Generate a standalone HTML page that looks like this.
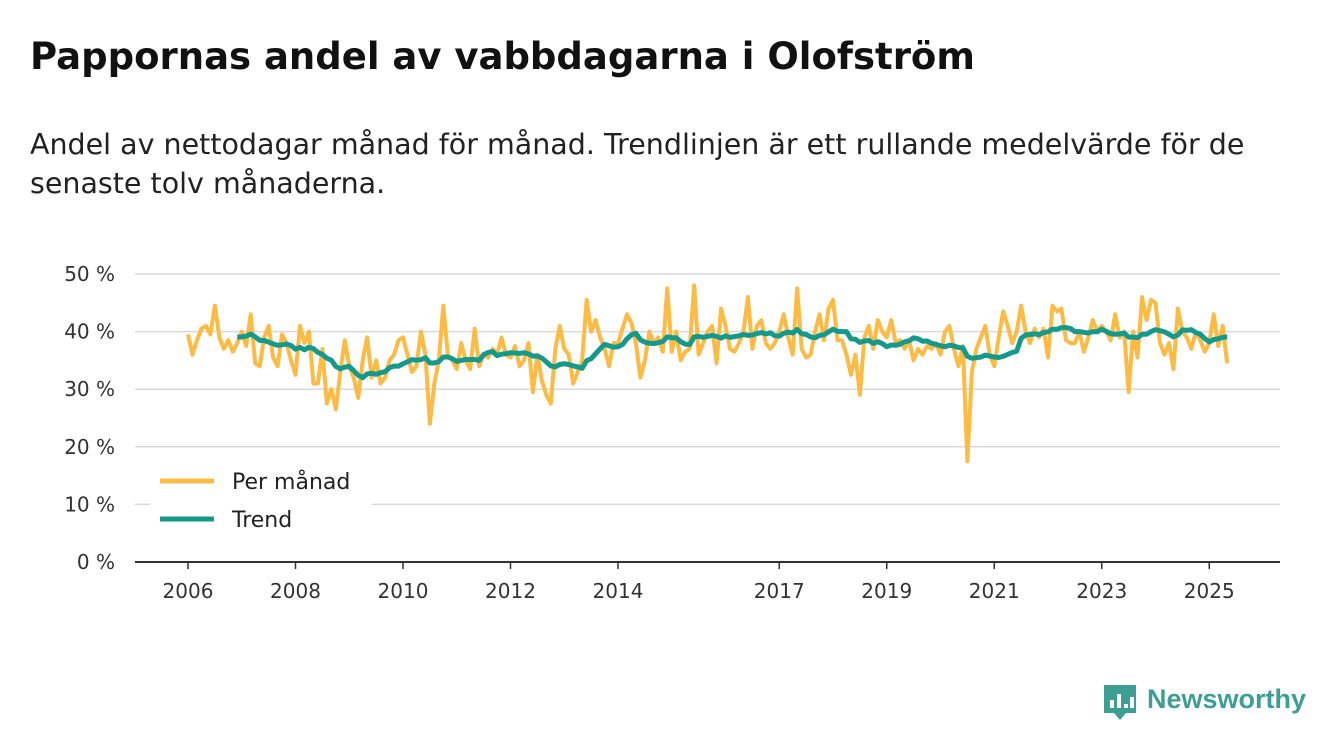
<!DOCTYPE html>
<html><head><meta charset="utf-8"><style>
body{margin:0;background:#fff;font-family:"DejaVu Sans","Liberation Sans",sans-serif;}
#wrap{position:relative;width:1340px;height:753px;overflow:hidden;}
h1{position:absolute;left:30px;top:35px;margin:0;font-size:37px;font-weight:bold;color:#111;white-space:nowrap;}
.sub{position:absolute;left:30px;top:125px;font-size:28.5px;line-height:39px;color:#222;white-space:nowrap;}
</style></head><body>
<div id="wrap">
<h1>Pappornas andel av vabbdagarna i Olofström</h1>
<div class="sub">Andel av nettodagar månad för månad. Trendlinjen är ett rullande medelvärde för de<br>senaste tolv månaderna.</div>
<svg id="chart" width="1340" height="753" style="position:absolute;left:0;top:0"></svg>
</div>
<script>
const startYear = 2006;
const monthly = [
39.5,36,38.5,40.5,41,39.5,44.5,39,37,38.5,36.5,38,
40,37.5,43,34.5,34,39,41,35.5,34,39.5,38,35,
32.5,41,38,40,31,31,37,27.5,30,26.5,33,38.5,
34,32,28.5,35,39,32,35,31,32,35,36,38.5,
39,36,33,34,40,36,24,31,35,44.5,36,35,
33.5,38,35,33.5,40.5,34,36,35.5,37,36,39,36,
35.5,37.5,34,35,38,29.5,36,31.5,29,27.5,37,41,
37,36,31,33,35,45.5,40,42,39,37,34,38,
38,40.5,43,41.5,38,32,35,40,38,39,36.5,47.5,
36.5,40,35,36.5,37,48,36,38,40,41,34.5,44,
41,37,36.5,38,40,46,37,41,42,38,37,38,
40,43,39,36,47.5,37,35.5,36,40,43,38.5,44,
45.5,38.5,38.5,36,32.5,36,29,39,41,37,42,40,
39,42,38,38.5,37,38.5,35,37,36,37.5,37,38,
36,40,41,37,34,37.5,17.5,33,37,39,41,36,
34,39,43.5,41,38,40,44.5,40,38,40.5,39,40.5,
35.5,44.5,43.5,44,38.5,38,38,40,36.5,39,42,40,
41,40,38.5,43,39,40,29.5,40,35.5,46,42,45.5,
45,38,36,38,33.5,44,40,39,37,40,38.5,36.5,
38,43,37.5,41,34.5
];
const yTicks = [0,10,20,30,40,50];
const xTickYears = [2006,2008,2010,2012,2014,2017,2019,2021,2023,2025];
const legendLabels = ["Per månad","Trend"];

const NS="http://www.w3.org/2000/svg";
const svg=document.getElementById('chart');
const x0=188, pxYear=53.75, y0=562, pxPct=5.76;
const xm=i=>x0+i*pxYear/12;
const xy=yr=>x0+(yr-startYear)*pxYear;
const yv=v=>y0-v*pxPct;
function mk(t,a){const e=document.createElementNS(NS,t);for(const k in a)e.setAttribute(k,a[k]);svg.appendChild(e);return e;}

yTicks.forEach(t=>{
  const g=mk('line',{x1:135,x2:1280,y1:yv(t),y2:yv(t),stroke:t===0?'#333':'#d9d9d9','stroke-width':t===0?2:1.5});
  
  
  const l=mk('text',{x:115,y:yv(t)+7,'text-anchor':'end','font-size':20,fill:'#333'});
  l.textContent=t+' %';
  
  
});
xTickYears.forEach(yr=>{
  const tk=mk('line',{x1:xy(yr),x2:xy(yr),y1:y0,y2:y0+7,stroke:'#333','stroke-width':1.5});
  
  
  const l=mk('text',{x:xy(yr),y:598,'text-anchor':'middle','font-size':20,fill:'#333'});
  l.textContent=yr;
  
  
});

const trend=[];
for(let i=11;i<monthly.length;i++){let s=0;for(let j=i-11;j<=i;j++)s+=monthly[j];trend.push([i,s/12]);}

const p1=mk('polyline',{points:monthly.map((v,i)=>xm(i)+','+yv(v)).join(' '),fill:'none',stroke:'#fdbb44','stroke-width':4,'stroke-linejoin':'round'});


const p2=mk('polyline',{points:trend.map(([i,v])=>xm(i)+','+yv(v)).join(' '),fill:'none',stroke:'#14998a','stroke-width':5,'stroke-linejoin':'round'});



const lb=mk('rect',{x:150,y:462,width:222,height:76,fill:'#fff'});


const lc=['#fdbb44','#14998a'];
legendLabels.forEach((t,k)=>{
  const ly=481+k*38;
  const s=mk('line',{x1:160,x2:214,y1:ly,y2:ly,stroke:lc[k],'stroke-width':5});
  
  
  const l=mk('text',{x:232,y:ly+8,'font-size':22,fill:'#222'});
  l.textContent=t;
  
  
});

const logo=mk('g',{});


const r=document.createElementNS(NS,'path');
r.setAttribute('d','M1104 685 h32 v28 h-10 l-6 7 l-6 -7 h-10 z');
r.setAttribute('fill','#3d9e93');
logo.appendChild(r);
[[1110,700,8],[1117,694,14],[1124,704,4],[1130,697,11]].forEach(b=>{
  const e=document.createElementNS(NS,'rect');
  e.setAttribute('x',b[0]);e.setAttribute('y',b[1]);e.setAttribute('width',4);e.setAttribute('height',b[2]);e.setAttribute('fill','#fff');
  logo.appendChild(e);
});
const lt=mk('text',{x:1147,y:708,'font-size':27,'font-weight':'bold',fill:'#3d9e93','font-family':'Liberation Sans, sans-serif'});
lt.textContent='Newsworthy';


</script>
</body></html>
